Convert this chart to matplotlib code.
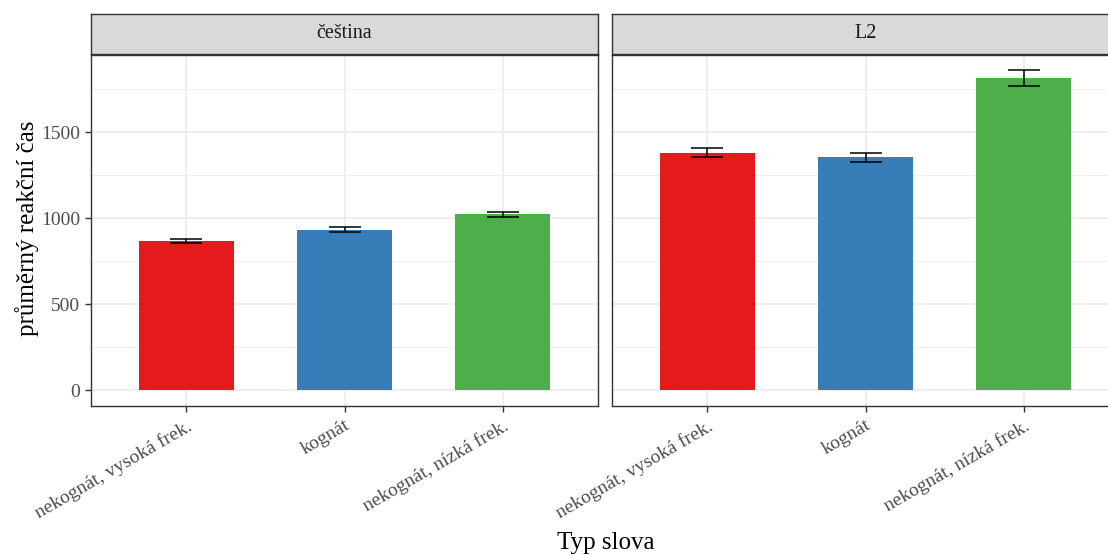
import matplotlib.pyplot as plt
import numpy as np

# mean reaction times per word type, one panel per language
panels = ["čeština", "L2"]
categories = ["nekognát, vysoká frek.", "kognát", "nekognát, nízká frek."]
means = {
    "čeština": [866, 932, 1021],
    "L2": [1380, 1353, 1814],
}
errors = {
    "čeština": [12, 15, 15],
    "L2": [26, 25, 44],
}
colors = ["#E41A1C", "#377EB8", "#4DAF4A"]

plt.rcParams['font.family'] = ['Liberation Serif', 'DejaVu Serif']

W, H = 1108, 555
fig = plt.figure(figsize=(W / 100, H / 100), dpi=100)

def frac(x0, y0, x1, y1):
    # pixel box -> figure fractions
    return [x0 / W, 1 - y1 / H, (x1 - x0) / W, (y1 - y0) / H]

panel_x = [(91, 598), (612, 1119)]
dark = "#333333"

for i, name in enumerate(panels):
    x0, x1 = panel_x[i]
    ax = fig.add_axes(frac(x0, 55, x1, 406))
    xs = np.arange(len(categories))
    ax.bar(xs, means[name], width=0.6, color=colors, zorder=3)
    ax.errorbar(xs, means[name], yerr=errors[name], fmt='none', ecolor='black',
                elinewidth=1.1, capsize=11.5, capthick=1.1, zorder=4)
    ax.set_xlim(-0.6, 2.6)
    ax.set_ylim(-93, 1948)
    ax.set_yticks([0, 500, 1000, 1500])
    ax.set_yticks([250, 750, 1250, 1750], minor=True)
    ax.set_xticks(xs)
    ax.set_xticklabels(categories, rotation=30, ha='right', va='top',
                       rotation_mode='anchor', fontsize=14, color='#4D4D4D')
    ax.grid(which='major', color='#EBEBEB', linewidth=1.2, zorder=0)
    ax.grid(which='minor', axis='y', color='#EBEBEB', linewidth=0.6, zorder=0)
    ax.set_axisbelow(True)
    ax.tick_params(which='major', length=4, width=1, color=dark, labelsize=14,
                   labelcolor='#4D4D4D', pad=4)
    ax.tick_params(which='minor', length=0)
    if i > 0:
        ax.tick_params(axis='y', labelleft=False, length=0)
    for sp in ax.spines.values():
        sp.set_color(dark)
        sp.set_linewidth(1.0)

    # facet strip
    sx = fig.add_axes(frac(x0, 14, x1, 54))
    sx.set_facecolor('#D9D9D9')
    sx.set_xticks([])
    sx.set_yticks([])
    for sp in sx.spines.values():
        sp.set_color(dark)
        sp.set_linewidth(1.0)
    sx.text(0.5, 0.5, name, transform=sx.transAxes, ha='center', va='center',
            fontsize=14.5, color='#1A1A1A')

fig.text(606 / W, 1 - 543 / H, "Typ slova", ha='center', va='center', fontsize=18)
fig.text(27 / W, 1 - 228 / H, "průměrný reakční čas", ha='center', va='center',
         rotation=90, fontsize=18)

fig.savefig("out.png", dpi=100)
